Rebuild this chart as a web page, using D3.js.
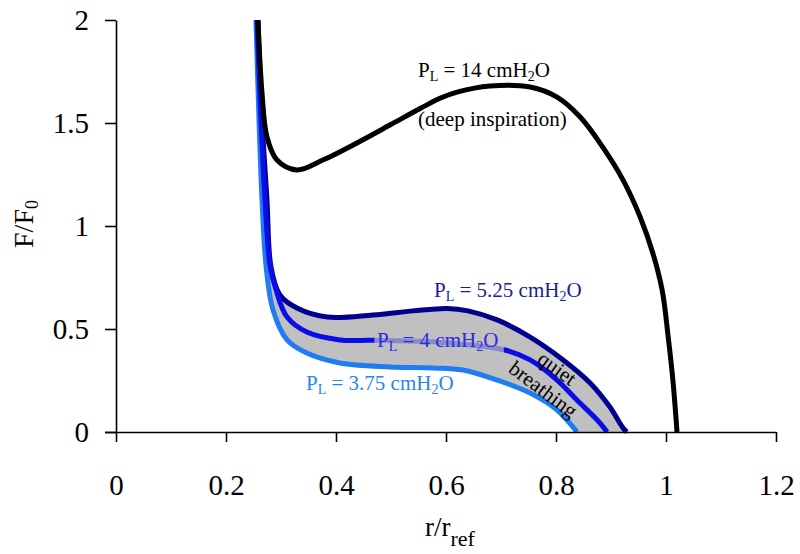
<!DOCTYPE html>
<html><head><meta charset="utf-8">
<script src="https://cdn.jsdelivr.net/npm/d3@7"></script>
<style>body{margin:0;background:#fff}svg{display:block}text{font-family:"Liberation Serif","Times New Roman",serif}</style>
</head><body>
<svg id="c" width="800" height="554"></svg>
<script>
// ---- data ----
const xTicks = [0, 0.2, 0.4, 0.6, 0.8, 1, 1.2];
const yTicks = [0, 0.5, 1, 1.5, 2];
const deepInspiration = [ // P_L = 14 cmH2O
  [0.258,2.0],[0.2655,1.646],[0.2745,1.432],[0.2927,1.320],[0.329,1.272],[0.376,1.320],
  [0.438,1.403],[0.498,1.490],[0.553,1.570],[0.589,1.620],[0.62,1.650],[0.68,1.680],
  [0.753,1.675],[0.802,1.626],[0.844,1.529],[0.885,1.383],[0.922,1.223],[0.953,1.044],
  [0.976,0.869],[0.993,0.689],[1.004,0.461],[1.013,0.238],[1.020,0.0]
];
const pl375 = [
  [0.2545,2.0],[0.26,1.515],[0.2655,1.126],[0.273,0.801],[0.2855,0.592],[0.311,0.447],
  [0.347,0.383],[0.407,0.335],[0.498,0.316],[0.576,0.311],[0.631,0.301],[0.693,0.252],
  [0.753,0.189],[0.802,0.107],[0.831,0.024],[0.838,0.0]
];
const pl4 = [
  [0.2564,2.0],[0.2636,1.515],[0.271,1.126],[0.28,0.81],[0.291,0.689],[0.311,0.558],
  [0.347,0.485],[0.407,0.447],[0.467,0.445],[0.589,0.435],[0.707,0.398],[0.753,0.350],
  [0.802,0.252],[0.838,0.155],[0.875,0.058],[0.893,0.0]
];
const pl525 = [
  [0.2582,2.0],[0.2655,1.515],[0.2745,1.126],[0.2818,0.801],[0.298,0.665],[0.329,0.602],
  [0.384,0.558],[0.467,0.568],[0.54,0.588],[0.602,0.600],[0.640,0.588],[0.693,0.544],
  [0.753,0.461],[0.813,0.350],[0.862,0.238],[0.898,0.121],[0.922,0.019],[0.929,0.0]
];

const svg = d3.select("#c");
const x = d3.scaleLinear().domain([0,1.2]).range([116,776]);
const y = d3.scaleLinear().domain([0,2]).range([432,20]);
const line = d3.line().x(d=>x(d[0])).y(d=>y(d[1])).curve(d3.curveCatmullRom.alpha(0.5));

// gray band between 5.25 and 3.75 curves
const upper = line(pl525);
const lower = line(pl375.slice().reverse()).replace(/^M/,"L");
svg.append("path").attr("d", upper + lower + "Z").attr("fill","#c0c0c0");

// clip paths for PL=4 label region
const defs = svg.append("defs");
const lx0 = x(0.47), lx1 = x(0.705);
defs.append("clipPath").attr("id","outside").append("path")
  .attr("d", `M0,0H${lx0}V554H0Z M${lx1},0H800V554H${lx1}Z`);
defs.append("clipPath").attr("id","inside").append("rect")
  .attr("x", lx0).attr("y", 0).attr("width", lx1-lx0).attr("height", 554);

svg.append("path").attr("d", line(pl525)).attr("fill","none").attr("stroke","#000090").attr("stroke-width",5);
svg.append("path").attr("d", line(pl375)).attr("fill","none").attr("stroke","#1f7cf2").attr("stroke-width",5);
svg.append("path").attr("d", line(pl4)).attr("fill","none").attr("stroke","#0c0ce6").attr("stroke-width",5).attr("clip-path","url(#outside)");
svg.append("path").attr("d", line(pl4)).attr("fill","none").attr("stroke","#0c0ce6").attr("stroke-opacity",0.3).attr("stroke-width",5).attr("clip-path","url(#inside)");
svg.append("path").attr("d", line(deepInspiration)).attr("fill","none").attr("stroke","#000").attr("stroke-width",5);

// axes
const xAxis = svg.append("g").attr("transform","translate(0,432)")
  .call(d3.axisBottom(x).tickValues(xTicks).tickSize(10).tickSizeOuter(0).tickPadding(32).tickFormat(d3.format("")));
xAxis.select(".domain").attr("d", `M105,0.5H${x(1.2)}`);
const yAxis = svg.append("g").attr("transform","translate(116,0)")
  .call(d3.axisLeft(y).tickValues(yTicks).tickSize(11).tickSizeOuter(0).tickPadding(16).tickFormat(d3.format("")));
[xAxis, yAxis].forEach(g=>{
  g.selectAll(".tick line").attr("stroke-width",1.6);
  g.select(".domain").attr("stroke-width",1.6);
  g.selectAll("text").attr("font-size",29).attr("font-family","Liberation Serif").attr("fill","#000");
});

// axis titles
const xt = svg.append("text").attr("x",425).attr("y",536).attr("font-size",27);
xt.append("tspan").text("r/r");
xt.append("tspan").attr("font-size",22).attr("dy",10).text("ref");
const yt = svg.append("text").attr("text-anchor","middle").attr("transform","translate(33,224) rotate(-90)").attr("font-size",28);
yt.append("tspan").text("F/F");
yt.append("tspan").attr("font-size",18).attr("dy",5).text("0");

// curve labels
function plLabel(px, py, val, color){
  const t = svg.append("text").attr("x",px).attr("y",py).attr("font-size",21).attr("fill",color);
  t.append("tspan").text("P");
  t.append("tspan").attr("font-size",14).attr("dy",4).text("L");
  t.append("tspan").attr("dy",-4).text(" = " + val + " cmH");
  t.append("tspan").attr("font-size",14).attr("dy",4).text("2");
  t.append("tspan").attr("dy",-4).text("O");
}
plLabel(418, 77, "14", "#000");
svg.append("text").attr("x",418).attr("y",126).attr("font-size",21).text("(deep inspiration)");
plLabel(434, 297, "5.25", "#1c1c96");
plLabel(377, 347, "4", "#2a2ae0");
plLabel(306, 390, "3.75", "#2a84f0");

svg.append("text").attr("transform","translate(553,374) rotate(36)").attr("text-anchor","middle").attr("font-size",21).text("quiet");
svg.append("text").attr("transform","translate(539,395) rotate(37)").attr("text-anchor","middle").attr("font-size",21).text("breathing");
</script>
</body></html>
